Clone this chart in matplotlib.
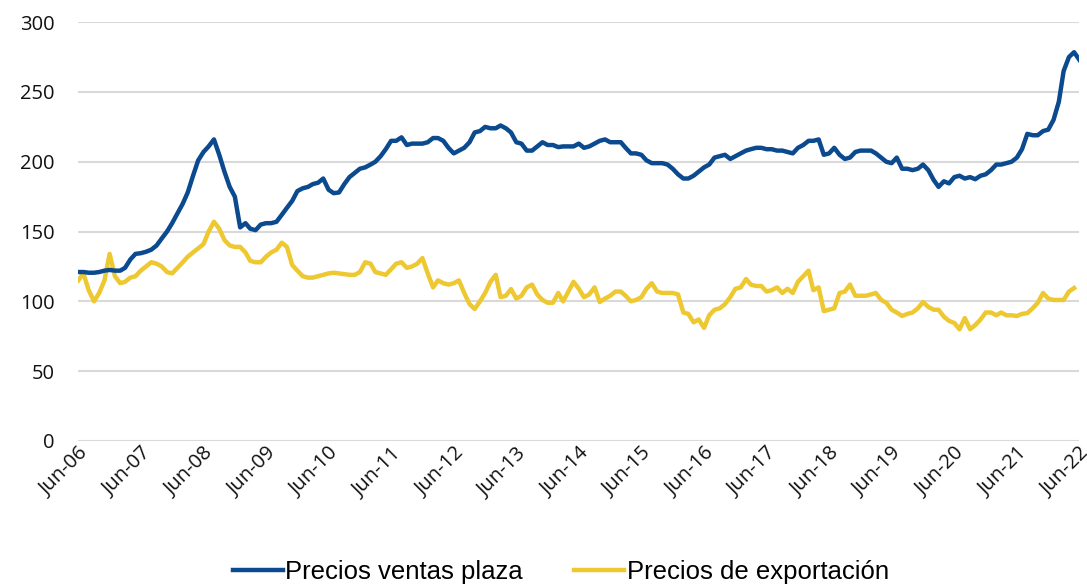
import pandas as pd
import matplotlib
matplotlib.use("Agg")
import matplotlib.pyplot as plt

# Índices mensuales, jun-2006 a jun-2022
ventas_plaza = [
    121, 121, 120.5, 120.5, 121, 122, 122.5, 122, 122, 124, 130, 134,
    134.5, 135.5, 137, 140, 145, 150, 156, 163, 170, 178, 190, 201,
    207, 211, 216, 205, 193, 182, 175, 153, 156, 152, 151, 155,
    156, 156, 157, 162, 167, 172, 179, 181, 182, 184, 185, 188,
    180, 177.5, 178, 184, 189, 192, 195, 196, 198, 200, 204, 209,
    215, 215, 217.5, 212, 213, 213, 213, 214, 217, 217, 215, 210,
    206, 208, 210, 214, 221, 222, 225, 224, 224, 226, 224, 221,
    214, 213, 208, 208, 211, 214, 212, 212, 210.5, 211, 211, 211,
    213, 210, 211, 213, 215, 216, 214, 214, 214, 210, 206, 206,
    205, 201, 199, 199, 199, 198, 195, 191, 188, 188, 190, 193,
    196, 198, 203, 204, 205, 202, 204, 206, 208, 209, 210, 210,
    209, 209, 208, 208, 207, 206, 210, 212, 215, 215, 216, 205,
    206, 210, 205, 202, 203, 207, 208, 208, 208, 206, 203, 200,
    199, 203, 195, 195, 194, 195, 198, 194, 187, 182, 186, 184.5,
    189, 190, 188, 189, 187.5, 190, 191, 194, 198, 198, 199, 200,
    203, 209, 220, 219, 219, 222, 223, 230, 243, 265, 275, 278.5,
    273,
]
exportacion = [
    115, 120, 108, 100, 106, 115, 134, 118, 113, 114, 117, 118,
    122, 125, 128, 127, 125, 121, 120, 124, 128, 132, 135, 138,
    141, 150, 157, 152, 144, 140, 139, 139, 135, 129, 128, 128,
    132, 135, 137, 142, 139, 126, 122, 118, 117, 117, 118, 119,
    120, 120.5, 120, 119.5, 119, 119, 121, 128, 127, 121, 120, 119,
    123, 127, 128, 124, 125, 127, 131, 120, 110, 115, 113, 112,
    113, 115, 106, 98, 94.5, 100, 106, 114, 119, 103, 104, 108.8,
    102, 104, 110, 112, 105, 101, 99, 99, 106, 100, 107, 114,
    109, 103, 105, 110, 99.5, 102, 104, 107, 107, 104, 100, 101,
    103, 109, 113, 107, 106, 106, 106, 105, 92, 91, 85, 87,
    81, 90, 94, 95, 98, 103, 109, 110, 116, 112, 111, 111,
    107, 108, 110, 106, 109, 106, 114, 118, 122, 108, 110, 93,
    94, 95, 106, 107, 112, 104, 104, 104, 105, 106, 101, 99,
    94, 92, 89.5, 91, 92, 95, 99.5, 96, 94, 94, 89, 86,
    84.5, 80, 88, 80, 83, 87, 92, 92, 90, 92, 90, 90,
    89.5, 91, 91.6, 95, 99, 106, 102, 101, 101, 101, 107, 109.5,
]

fechas_plaza = pd.date_range("2006-06-01", periods=len(ventas_plaza), freq="MS")
fechas_export = pd.date_range("2006-06-01", periods=len(exportacion), freq="MS")
ticks = pd.date_range("2006-06-01", "2022-06-01", freq="12MS")
tick_labels = [d.strftime("Jun-%y") for d in ticks]

plt.rcParams['font.family'] = ['Open Sans', 'DejaVu Sans']

fig = plt.figure(figsize=(10.87, 5.84), dpi=100)
ax = fig.add_axes([0.072, 0.245, 0.921, 0.717])

ax.plot(fechas_plaza, ventas_plaza, color="#0B4A8E", linewidth=3.2,
        solid_joinstyle="round", label="Precios ventas plaza", zorder=3)
ax.plot(fechas_export, exportacion, color="#EEC830", linewidth=3.2,
        solid_joinstyle="round", label="Precios de exportación", zorder=2)

ax.set_ylim(0, 300)
ax.set_yticks(range(0, 301, 50))
ax.set_xlim(ticks[0], ticks[-1])
ax.set_xticks(ticks)
ax.set_xticklabels(tick_labels, rotation=45, ha="right", rotation_mode="anchor")
ax.tick_params(axis="both", length=0, labelsize=14.5, colors="#111111")
ax.tick_params(axis="x", pad=2)
ax.tick_params(axis="y", pad=17)
ax.grid(axis="y", color="#d9d9d9", linewidth=1.5)
ax.set_axisbelow(True)
for s in ax.spines.values():
    s.set_visible(False)

fig.legend(loc="center", bbox_to_anchor=(0.516, 0.02), ncol=2, frameon=False,
           prop={'family': 'Liberation Sans', 'size': 18.5},
           handlelength=1.95, handletextpad=0.1, columnspacing=2.0)

fig.savefig("out.png", dpi=100)
